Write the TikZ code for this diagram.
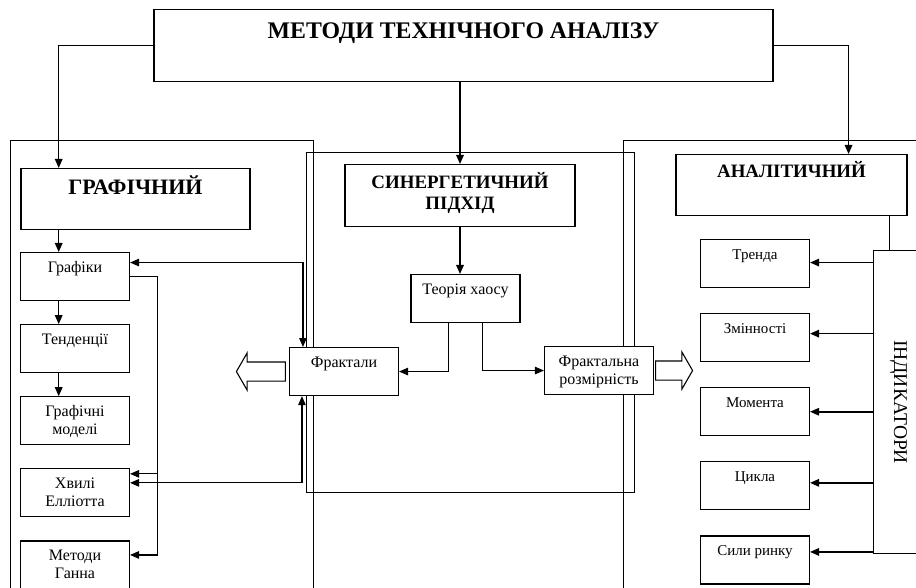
\documentclass[tikz,border=0pt]{standalone}
\usepackage{fontspec}
\setmainfont{Liberation Serif}
\usetikzlibrary{arrows.meta,positioning,shapes.arrows}

\tikzset{
  box/.style={draw, fill=white, line width=1.1pt, inner xsep=2pt, inner ysep=0pt, align=center},
  headbox/.style={box, font=\fontsize{18.9}{21}\selectfont\bfseries},
  smallbox/.style={box, minimum width=109pt, text height=20pt, text depth=28pt,
    font=\fontsize{16}{18.5}\selectfont},
  twobox/.style={smallbox, text height=38pt, text depth=10pt},
  rightbox/.style={smallbox, font=\fontsize{15}{18.5}\selectfont},
  frame/.style={line width=1pt},
  conn/.style={line width=1.5pt, -{Triangle[length=9pt,width=7.5pt]}},
  thinconn/.style={line width=1.1pt, -{Triangle[length=9pt,width=7.5pt]}},
  both/.style={line width=1.2pt, {Triangle[length=9pt,width=7.5pt]}-{Triangle[length=9pt,width=7.5pt]}},
  hollow/.style={single arrow, draw, fill=white, line width=1.1pt, inner sep=0pt,
    text height=9pt, text depth=9pt, single arrow head extend=9pt, single arrow tip angle=120}
}

\begin{document}
\begin{tikzpicture}[x=1pt, y=-1pt]
    \clip (0,0) rectangle (916,588);
    % group frames
    \draw[frame] (10,600) -- (10,141) -- (313,141) -- (313,600);
    \draw[frame] (306,153) rectangle (634,492);
    \draw[frame] (623,600) -- (623,141) -- (930,141);

    % headings
    \node[headbox, font=\fontsize{23.8}{26}\selectfont\bfseries, minimum width=619pt,
      text height=29pt, text depth=43pt, anchor=north] (title) at (463.5,9) {МЕТОДИ ТЕХНІЧНОГО АНАЛІЗУ};
    \node[headbox, font=\fontsize{22}{24}\selectfont\bfseries, minimum width=229pt,
      text height=26pt, text depth=35pt, anchor=north] (graf) at (135.5,168) {ГРАФІЧНИЙ};
    \node[headbox, minimum width=230pt, text height=45pt, text depth=17pt, anchor=north] (syn) at (460,164) {СИНЕРГЕТИЧНИЙ\\ПІДХІД};
    \node[headbox, minimum width=231pt, text height=23pt, text depth=38pt, anchor=north] (anal) at (791.5,154) {АНАЛІТИЧНИЙ};

    % graphic methods
    \node[smallbox, anchor=north] (grafiky) at (75,252) {Графіки};
    \node[smallbox, below=23pt of grafiky] (tend) {Тенденції};
    \node[twobox, below=23pt of tend] (models) {Графічні\\моделі};
    \node[twobox, below=23pt of models] (elliott) {Хвилі\\Елліотта};
    \node[twobox, below=23pt of elliott] (gann) {Методи\\Ганна};

    % synergetic approach
    \node[smallbox, anchor=north] (chaos) at (465.5,274) {Теорія хаосу};
    \node[smallbox, anchor=north] (fract) at (344,347) {Фрактали};
    \node[twobox, anchor=north] (frdim) at (599,346) {Фрактальна\\розмірність};
    \node[hollow, shape border rotate=180, minimum height=49pt, anchor=tail] (outL) at ([xshift=-3pt]fract.west) {};
    \node[hollow, minimum height=37pt, anchor=tail] (outR) at ([xshift=1pt]frdim.east) {};

    % analytic methods
    \node[rightbox, anchor=north] (trend) at (755,239) {Тренда};
    \node[rightbox, below=25pt of trend] (zmin) {Змінності};
    \node[rightbox, below=25pt of zmin] (moment) {Момента};
    \node[rightbox, below=25pt of moment] (cycle) {Цикла};
    \node[rightbox, below=25pt of cycle] (sily) {Сили ринку};
    \node[box, minimum width=50pt, minimum height=303pt, anchor=north west,
      font=\fontsize{19.5}{21}\selectfont] (ind) at (873,250) {\rotatebox{-90}{ІНДИКАТОРИ}};

    % connectors
    \coordinate (colL) at (58.7,0);
    \draw[conn] (title.west) -| (colL |- graf.north);
    \draw[conn] (title.south -| syn.north) -- (syn.north);
    \draw[conn] (title.east) -| ([xshift=-59pt]anal.north east);
    \foreach \a/\b in {graf/grafiky, grafiky/tend, tend/models}
        \draw[conn] (colL |- \a.south) -- (colL |- \b.north);

    \draw[thinconn] (grafiky.east) -- ++(27,0) coordinate (brk) |- ([yshift=10pt]gann.east);
    \path ([yshift=19pt]elliott.east) coordinate (ellA);
    \draw[thinconn] (brk |- ellA) -- (ellA);
    \draw[both] ([yshift=14pt]grafiky.east) -| ([xshift=14pt]fract.north west);
    \draw[both] ([yshift=10pt]elliott.east) -| ([xshift=13pt]fract.south west);

    \draw[conn] (syn.south) -- (syn.south |- chaos.north);
    \draw[thinconn] ([xshift=-17pt]chaos.south) |- (fract.east);
    \draw[thinconn] ([xshift=17pt]chaos.south) |- (frdim.west);

    \draw[frame] ([xshift=-18pt]anal.south east) -- ([xshift=-18pt]anal.south east |- ind.north);
    \foreach \n/\s in {trend/1, zmin/4, moment/0, cycle/3, sily/8} {
        \path ([yshift=\s pt]\n.east) coordinate (tmp);
        \draw[conn] (ind.west |- tmp) -- (tmp);
    }
\end{tikzpicture}
\end{document}
